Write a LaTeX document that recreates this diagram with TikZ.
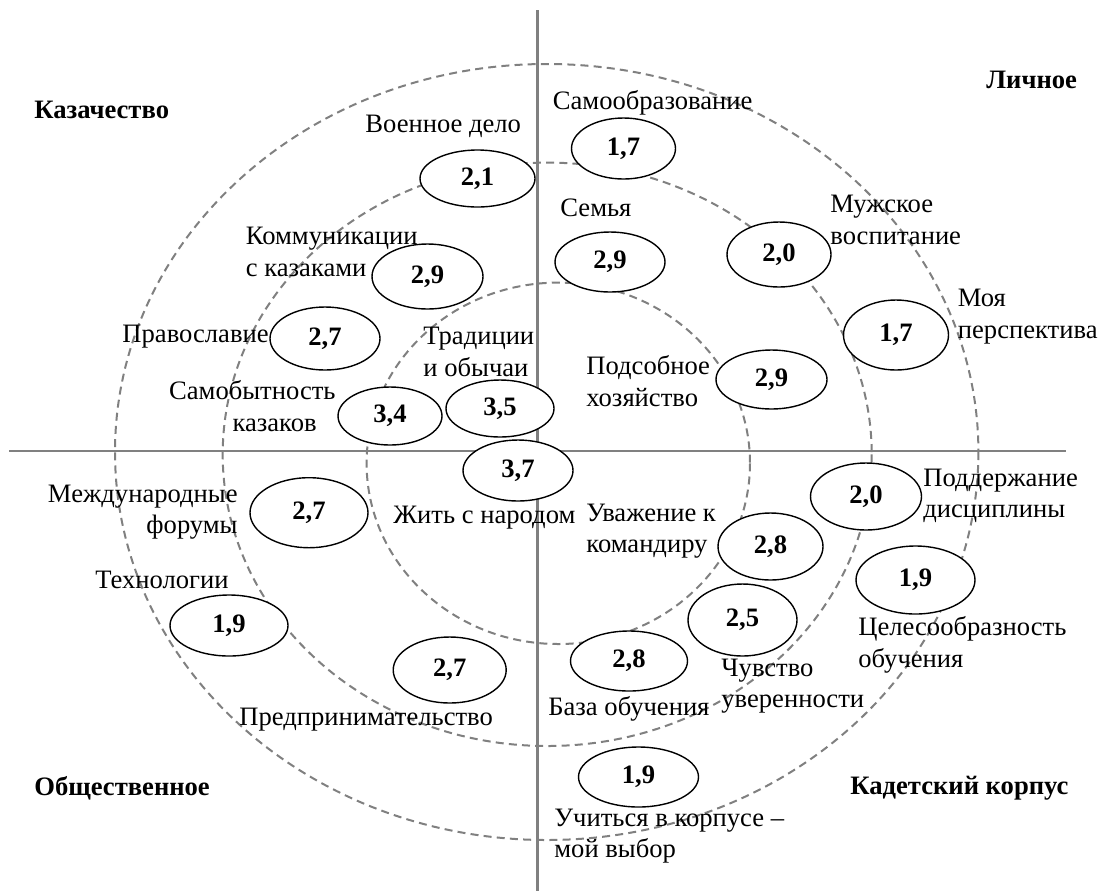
\documentclass[tikz,border=0pt]{standalone}
\usepackage{fontspec}
\setmainfont{Liberation Serif}
\usetikzlibrary{shapes.geometric}
\tikzset{
	ring/.style={draw=gray, dash pattern=on 4pt off 2.6pt, line width=1pt},
	axe/.style={draw=gray, line width=1.3pt},
	score/.style 2 args={ellipse, draw, fill=white, line width=0.7pt, inner sep=0pt,
		minimum width=#1pt, minimum height=#2pt, font=\fontsize{13.3}{15.8}\selectfont\bfseries},
	lbl/.style={inner sep=0pt},
	titre/.style={inner sep=0pt, anchor=west, font=\fontsize{13.3}{15.8}\selectfont\bfseries}
}
\begin{document}
\begin{tikzpicture}[x=0.5pt, y=-0.5pt, font=\fontsize{13.3}{15.8}\selectfont]
			\useasboundingbox (0,0) rectangle (1102,891);
			%Cercles
			\draw[ring] (546.7,452) ellipse [x radius=431.7, y radius=388];
			\draw[ring] (547.2,454.3) ellipse [x radius=324.5, y radius=291.7];
			\draw[ring] (558.3,463.3) ellipse [x radius=191.7, y radius=180.7];
			%Axes
			\coordinate (Nord) at (537.5,10);
			\coordinate (Sud) at (537.5,891);
			\coordinate (Ouest) at (9,451);
			\coordinate (Est) at (1066,451);
			\draw[axe] (Nord) -- (Sud);
			\draw[axe] (Ouest) -- (Est);
			%Quadrants
			\node[titre] (Kaz) at (34,110) {Казачество};
			\node[titre] (Lich) at (986,80) {Личное};
			\node[titre] (Obsh) at (34,788) {Общественное};
			\node[titre] (Kad) at (850,788) {Кадетский корпус};
			%Valeurs
			\node[score={52}{30.5}] (Samoobr) at (623.5,148.5) {1,7};
			\node[score={57.5}{28.5}] (Voen) at (477.5,178.5) {2,1};
			\node[score={55.5}{32.5}] (Komm) at (427.5,276.5) {2,9};
			\node[score={55}{30}] (Semia) at (610,262) {2,9};
			\node[score={52}{32.5}] (Muzh) at (779,254.5) {2,0};
			\node[score={52.5}{35}] (Moia) at (896,335) {1,7};
			\node[score={55}{31.5}] (Pravosl) at (325,338.5) {2,7};
			\node[score={55.5}{29.5}] (Podsob) at (771.5,379.5) {2,9};
			\node[score={52}{29}] (Samob) at (390,416) {3,4};
			\node[score={54}{28.5}] (Trad) at (500,408.5) {3,5};
			\node[score={55}{30.5}] (Zhit) at (518,470.5) {3,7};
			\node[score={59}{35}] (Mezhd) at (309,512.7) {2,7};
			\node[score={55.5}{33.5}] (Podd) at (866,496.5) {2,0};
			\node[score={52.5}{33.5}] (Uvazh) at (770.5,546.5) {2,8};
			\node[score={59.5}{34}] (Tsel) at (915.5,580) {1,9};
			\node[score={54.5}{36}] (Chuv) at (742.5,620) {2,5};
			\node[score={58.5}{30}] (Baza) at (629,661) {2,8};
			\node[score={60}{30}] (Uch) at (638.5,777) {1,9};
			\node[score={59}{30.5}] (Tekh) at (229,625.5) {1,9};
			\node[score={56.5}{33}] (Predpr) at (449.7,670) {2,7};
			%Libellés
			\node[lbl, anchor=west] (LSamoobr) at (552.5,103) {Самообразование};
			\node[lbl, anchor=west] (LVoen) at (365,126) {Военное дело};
			\node[lbl, anchor=west, align=left] (LKomm) at (245.5,252) {Коммуникации\\с казаками};
			\node[lbl, anchor=west] (LSemia) at (560,208) {Семья};
			\node[lbl, anchor=west, align=left] (LMuzh) at (830,220) {Мужское\\воспитание};
			\node[lbl, anchor=west, align=left] (LMoia) at (957.5,316.5) {Моя\\перспектива};
			\node[lbl, anchor=east] (LPravosl) at (269,337) {Православие};
			\node[lbl, anchor=west, align=left] (LTrad) at (423,352) {Традиции\\и обычаи};
			\node[lbl, anchor=west, align=left] (LPodsob) at (586,381) {Подсобное\\хозяйство};
			\node[lbl, anchor=east, align=right] (LSamob) at (336,406) {Самобытность\\казаков\kern9.5pt};
			\node[lbl, anchor=west] (LZhit) at (393,518) {Жить с народом};
			\node[lbl, anchor=east, align=right] (LMezhd) at (238,512) {Международные\\форумы};
			\node[lbl, anchor=west, align=left] (LUvazh) at (586,531) {Уважение к\\командиру};
			\node[lbl, anchor=west, align=left] (LPodd) at (923,496) {Поддержание\\дисциплины};
			\node[lbl, anchor=west] (LTekh) at (95,580) {Технологии};
			\node[lbl, anchor=west, align=left] (LTsel) at (858,645) {Целесообразность\\обучения};
			\node[lbl, anchor=west, align=left] (LChuv) at (721,686) {Чувство\\уверенности};
			\node[lbl, anchor=west] (LBaza) at (548,709) {База обучения};
			\node[lbl, anchor=west] (LPredpr) at (239,720) {Предпринимательство};
			\node[lbl, anchor=west, align=left] (LUch) at (554,836) {Учиться в корпусе –\\мой выбор};
\end{tikzpicture}
\end{document}
